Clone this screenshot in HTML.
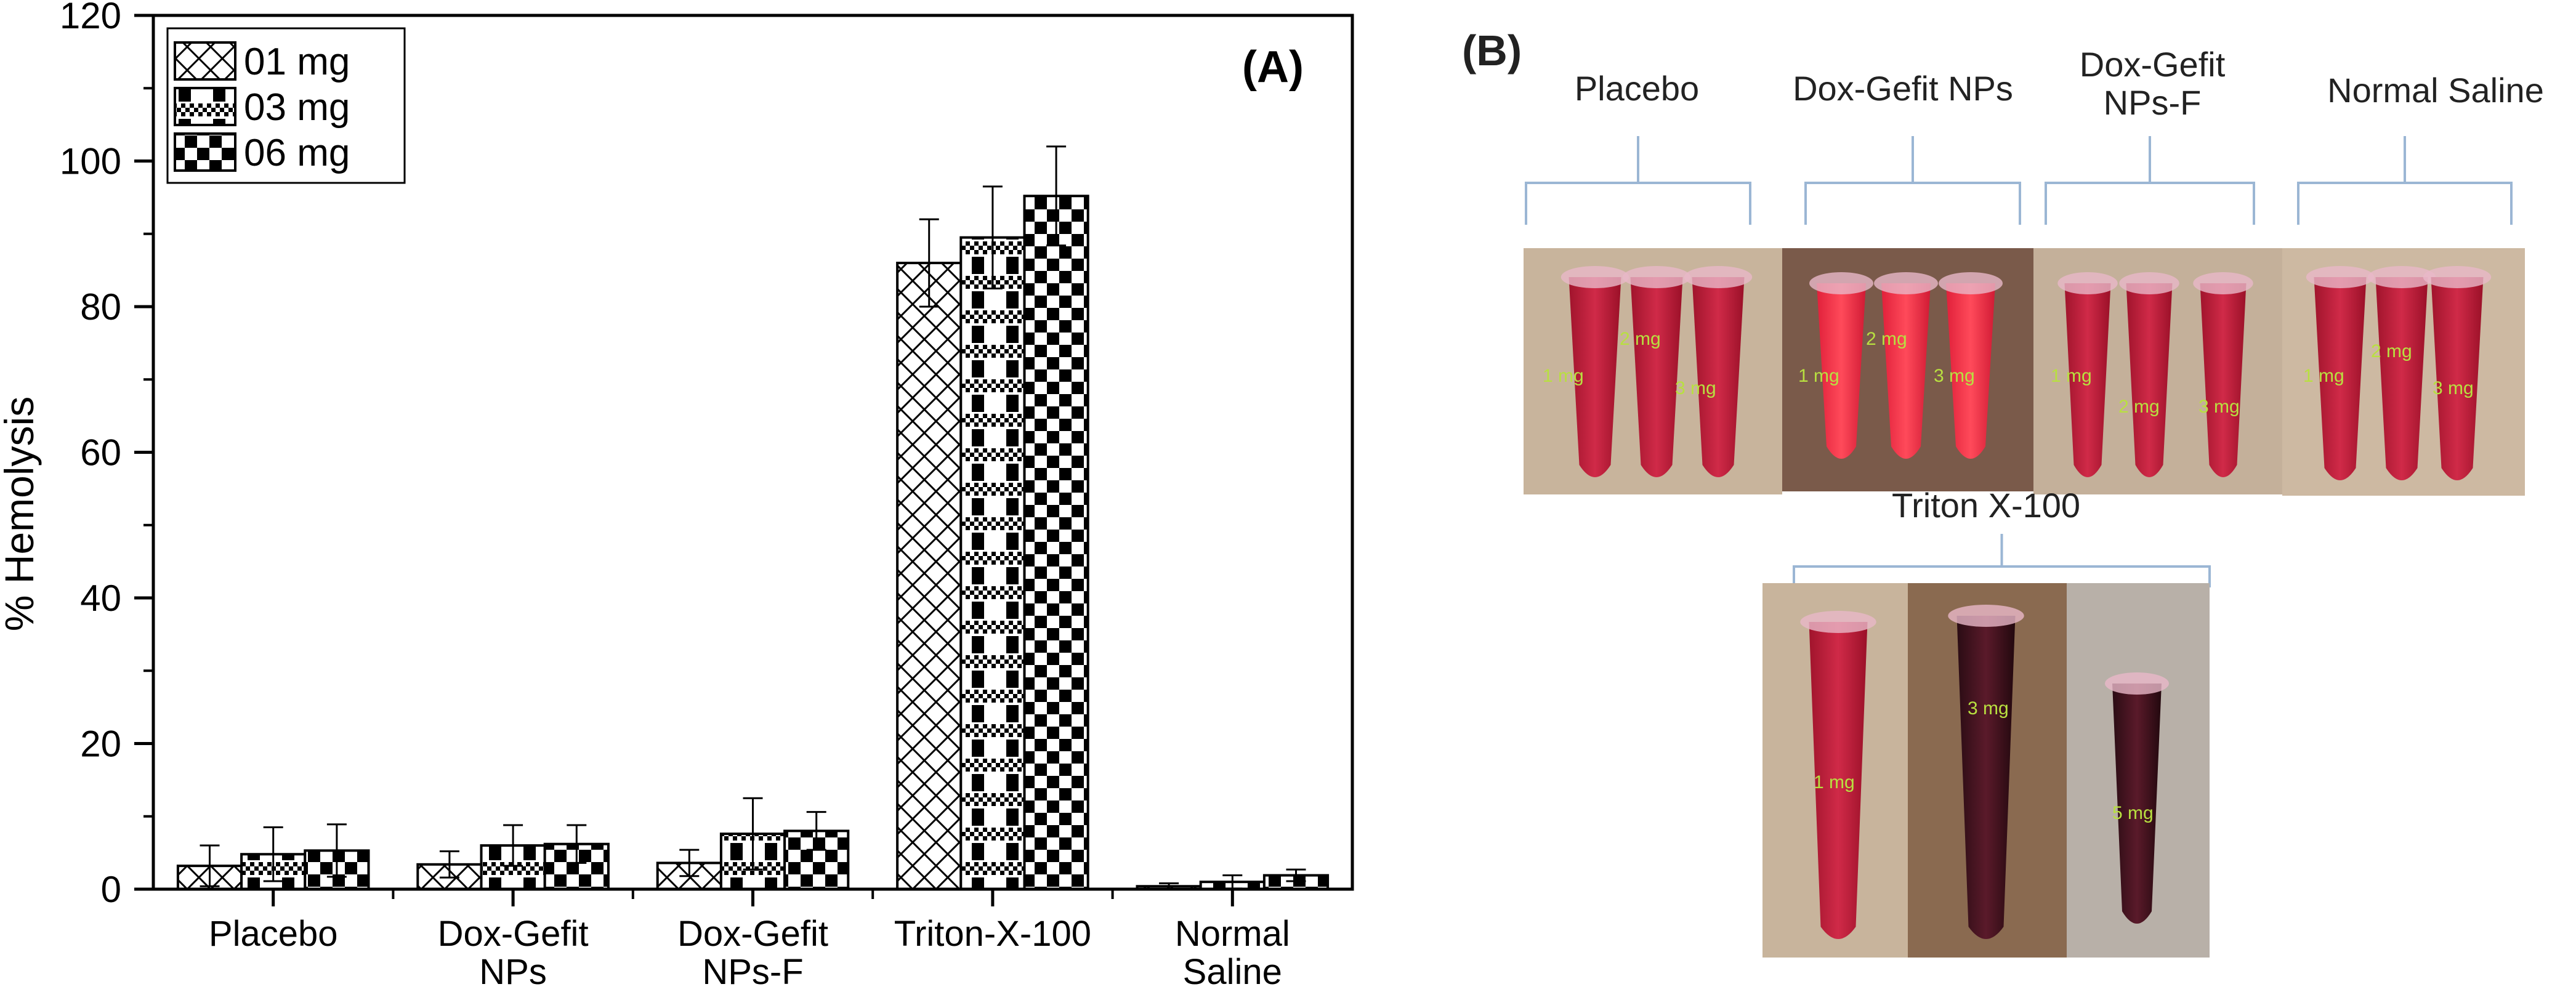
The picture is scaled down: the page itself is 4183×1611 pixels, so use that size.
<!DOCTYPE html>
<html><head><meta charset="utf-8">
<style>
html,body{margin:0;padding:0;background:#fff;}
svg{display:block;}
text{font-family:"Liberation Sans",Arial,sans-serif;}
</style></head>
<body>
<svg id="fig" width="4183" height="1611" viewBox="0 0 4183 1611" xmlns="http://www.w3.org/2000/svg">
<defs>
  <pattern id="p1" patternUnits="userSpaceOnUse" width="38" height="38">
    <rect width="38" height="38" fill="#fff"/>
    <path d="M0 0 L38 38 M38 0 L0 38" stroke="#000" stroke-width="3"/>
  </pattern>
  <pattern id="p2" patternUnits="userSpaceOnUse" width="56" height="56">
    <rect width="56" height="56" fill="#fff"/>
    <rect x="0" y="0" width="7" height="7" fill="#000"/><rect x="14" y="0" width="7" height="7" fill="#000"/><rect x="28" y="0" width="7" height="7" fill="#000"/><rect x="42" y="0" width="7" height="7" fill="#000"/>
    <rect x="7" y="7" width="7" height="7" fill="#000"/><rect x="21" y="7" width="7" height="7" fill="#000"/><rect x="35" y="7" width="7" height="7" fill="#000"/><rect x="49" y="7" width="7" height="7" fill="#000"/>
    <rect x="0" y="14" width="7" height="7" fill="#000"/><rect x="14" y="14" width="7" height="7" fill="#000"/><rect x="28" y="14" width="7" height="7" fill="#000"/><rect x="42" y="14" width="7" height="7" fill="#000"/>
    <rect x="10" y="25" width="20" height="28" fill="#000"/>
  </pattern>
  <pattern id="p3" patternUnits="userSpaceOnUse" width="40" height="40">
    <rect width="40" height="40" fill="#fff"/>
    <rect x="0" y="0" width="20" height="20" fill="#000"/>
    <rect x="20" y="20" width="20" height="20" fill="#000"/>
  </pattern>
  <linearGradient id="tubeG" x1="0" x2="1">
    <stop offset="0" stop-color="#a0142c"/><stop offset="0.5" stop-color="#d02a48"/><stop offset="1" stop-color="#9a1028"/>
  </linearGradient>
  <linearGradient id="tubeB" x1="0" x2="1">
    <stop offset="0" stop-color="#e0203a"/><stop offset="0.5" stop-color="#ff4a5a"/><stop offset="1" stop-color="#d01a34"/>
  </linearGradient>
  <linearGradient id="tubeD" x1="0" x2="1">
    <stop offset="0" stop-color="#2a0c14"/><stop offset="0.5" stop-color="#5a1a2a"/><stop offset="1" stop-color="#22080e"/>
  </linearGradient>
</defs>
<g id="chart"></g>
<g id="panelB"></g>
</svg>
<script>
const categories = [["Placebo"],["Dox-Gefit","NPs"],["Dox-Gefit","NPs-F"],["Triton-X-100"],["Normal","Saline"]];
const seriesNames = ["01 mg","03 mg","06 mg"];
const values1 = [3.2, 3.4, 3.6, 86.0, 0.4];
const values3 = [4.8, 6.0, 7.6, 89.5, 1.0];
const values6 = [5.3, 6.2, 8.0, 95.2, 1.9];
const errors1 = [2.8, 1.8, 1.8, 6.0, 0.4];
const errors3 = [3.7, 2.8, 4.9, 7.0, 0.9];
const errors6 = [3.6, 2.6, 2.6, 6.8, 0.8];
const yTicks = [0, 20, 40, 60, 80, 100, 120];
const yMinorTicks = [10, 30, 50, 70, 90, 110];

const NS = "http://www.w3.org/2000/svg";
function mk(tag, attrs, parent){const e=document.createElementNS(NS,tag);for(const k in attrs)e.setAttribute(k,attrs[k]);parent.appendChild(e);return e;}
const chart = document.getElementById('chart');
const X0=249, X1=2196, Y0=1444, Y1=25;
const xMin=0.5, xMax=5.5, yMin=0, yMax=120;
function xs(v){return X0+(v-xMin)/(xMax-xMin)*(X1-X0);}
function ys(v){return Y0-(v-yMin)/(yMax-yMin)*(Y0-Y1);}
const barW = 0.265;
const seriesVals=[values1,values3,values6], seriesErr=[errors1,errors3,errors6], fills=["url(#p1)","url(#p2)","url(#p3)"];

seriesVals.forEach((vals,s)=>{
  vals.forEach((v,i)=>{
    const cx = (i+1) + (s-1)*barW;
    const bx = xs(cx-barW/2), bw = xs(cx+barW/2)-bx;
    const r = mk('rect',{x:bx,y:ys(v),width:bw,height:ys(0)-ys(v),fill:fills[s],stroke:'#000','stroke-width':4},chart);
    
    
  });
});
seriesVals.forEach((vals,s)=>{
  vals.forEach((v,i)=>{
    const e = seriesErr[s][i];
    const cx = xs((i+1)+(s-1)*barW);
    const g = mk('g',{stroke:'#000','stroke-width':3},chart);
    
    
    mk('line',{x1:cx,x2:cx,y1:ys(Math.max(0,v-e)),y2:ys(v+e)},g);
    mk('line',{x1:cx-16,x2:cx+16,y1:ys(v+e),y2:ys(v+e)},g);
    mk('line',{x1:cx-16,x2:cx+16,y1:ys(Math.max(0,v-e)),y2:ys(Math.max(0,v-e))},g);
  });
});
const frame = mk('rect',{x:X0,y:Y1,width:X1-X0,height:Y0-Y1,fill:'none',stroke:'#000','stroke-width':5},chart);


yTicks.forEach(t=>{
  mk('line',{x1:X0-31,x2:X0,y1:ys(t),y2:ys(t),stroke:'#000','stroke-width':5},chart);
  const tx = mk('text',{x:197,y:ys(t)+21,'text-anchor':'end','font-size':60},chart);
  tx.textContent=t;
  
  
});
yMinorTicks.forEach(t=>{
  mk('line',{x1:X0-16,x2:X0,y1:ys(t),y2:ys(t),stroke:'#000','stroke-width':4},chart);
});
categories.forEach((c,i)=>{
  const x = xs(i+1);
  mk('line',{x1:x,x2:x,y1:Y0,y2:Y0+28,stroke:'#000','stroke-width':5},chart);
  c.forEach((line,j)=>{
    const tx = mk('text',{x:x,y:1536+j*62,'text-anchor':'middle','font-size':58},chart);
    tx.textContent=line;
    
    
  });
});
for(let i=1;i<5;i++){const x=xs(i+0.5);mk('line',{x1:x,x2:x,y1:Y0,y2:Y0+16,stroke:'#000','stroke-width':4},chart);}
const yt = mk('text',{x:0,y:0,'text-anchor':'middle','font-size':66,transform:'translate(54,'+((Y0+Y1)/2+100)+') rotate(-90)'},chart);
yt.textContent='% Hemolysis';


const pa = mk('text',{x:2117,y:133,'text-anchor':'end','font-size':72,'font-weight':'bold'},chart);
pa.textContent='(A)';


const lg = mk('g',{},chart);


mk('rect',{x:272,y:46,width:385,height:251,fill:'#fff',stroke:'#000','stroke-width':3},lg);
seriesNames.forEach((n,s)=>{
  const cy = 99 + s*74;
  const sw = mk('rect',{x:284,y:cy-30,width:98,height:60,fill:fills[s],stroke:'#000','stroke-width':4},lg);
  
  
  const t = mk('text',{x:396,y:cy+22,'font-size':62},lg);
  t.textContent=n;
  
  
});

// ---------- Panel B ----------
const pb = document.getElementById('panelB');
const bl = mk('text',{x:2374,y:106,'font-size':70,'font-weight':'bold',fill:'#222'},pb);
bl.textContent='(B)';


function label(lines,cx,y0,name){
  lines.forEach((l,j)=>{
    const t=mk('text',{x:cx,y:y0+j*62,'text-anchor':'middle','font-size':56,fill:'#222'},pb);
    t.textContent=l;
    
    
  });
}
function bracket(x1,x2,y,stemTop,down,name){
  const cx=(x1+x2)/2;
  const p=mk('path',{d:`M${x1} ${y+down} L${x1} ${y} L${cx} ${y} L${cx} ${stemTop} M${cx} ${y} L${x2} ${y} L${x2} ${y+down}`,fill:'none',stroke:'#9bb6d4','stroke-width':4},pb);
  
  
}
function photo(x,y,w,h,bg,name){
  const r=mk('rect',{x:x,y:y,width:w,height:h,fill:bg},pb);
  
  
}
function tube(cx,top,bottom,w,grad){
  mk('path',{d:`M${cx-w/2} ${top} L${cx+w/2} ${top} L${cx+w*0.3} ${bottom-40} Q${cx} ${bottom} ${cx-w*0.3} ${bottom-40} Z`,fill:grad},pb);
  mk('ellipse',{cx:cx,cy:top,rx:w*0.65,ry:18,fill:'#e8b8c8',opacity:0.8},pb);
}
function mg(x,y,t){const e=mk('text',{x:x,y:y,'font-size':30,fill:'#b8e040'},pb);e.textContent=t;}

label(['Placebo'],2658,163,'group-label-placebo');
label(['Dox-Gefit NPs'],3090,163,'group-label-nps');
label(['Dox-Gefit','NPs-F'],3495,124,'group-label-nps-f');
label(['Normal Saline'],3955,166,'group-label-saline');
bracket(2478,2842,297,221,68,'bracket-placebo');
bracket(2932,3280,297,221,68,'bracket-nps');
bracket(3322,3660,297,221,68,'bracket-nps-f');
bracket(3732,4078,297,221,68,'bracket-saline');

photo(2474,403,420,400,'#c8b49c','photo-placebo');
photo(2894,403,408,395,'#7a5a4a','photo-nps');
photo(3302,403,404,400,'#c4b09a','photo-nps-f');
photo(3706,403,394,402,'#cdb9a2','photo-saline');
[2590,2690,2790].forEach(c=>tube(c,450,795,85,'url(#tubeG)'));
[2990,3095,3200].forEach(c=>tube(c,460,765,80,'url(#tubeB)'));
[3390,3490,3610].forEach(c=>tube(c,460,795,75,'url(#tubeG)'));
[3800,3900,3990].forEach(c=>tube(c,450,800,85,'url(#tubeG)'));
mg(2505,620,'1 mg');mg(2630,560,'2 mg');mg(2720,640,'3 mg');
mg(2920,620,'1 mg');mg(3030,560,'2 mg');mg(3140,620,'3 mg');
mg(3330,620,'1 mg');mg(3440,670,'2 mg');mg(3570,670,'3 mg');
mg(3740,620,'1 mg');mg(3850,580,'2 mg');mg(3950,640,'3 mg');

label(['Triton X-100'],3225,840,'group-label-triton');
bracket(2913,3588,920,867,34,'bracket-triton');
photo(2862,947,236,608,'#c8b49c','photo-triton-1mg');
photo(3098,947,258,608,'#8a6a50','photo-triton-3mg');
photo(3356,947,232,608,'#b8b0a8','photo-triton-6mg');
tube(2985,1010,1545,95,'url(#tubeG)');
tube(3225,1000,1545,95,'url(#tubeD)');
tube(3470,1110,1520,80,'url(#tubeD)');
mg(2945,1280,'1 mg');mg(3195,1160,'3 mg');mg(3430,1330,'5 mg');
</script>
</body></html>
